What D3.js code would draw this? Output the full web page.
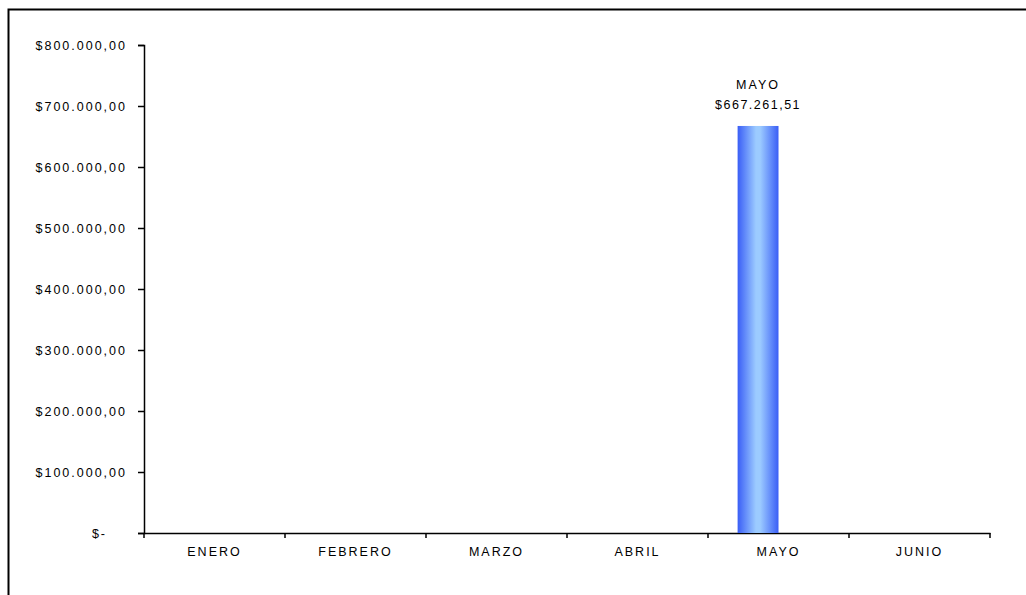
<!DOCTYPE html>
<html>
<head>
<meta charset="utf-8">
<script src="https://cdn.jsdelivr.net/npm/d3@7/dist/d3.min.js"></script>
<style>
  body { margin: 0; background: #fff; }
  text { font-family: "Liberation Sans", Arial, sans-serif; fill: #000; }
</style>
</head>
<body>
<div id="chart"></div>
<script>
// datos
var meses = ["ENERO", "FEBRERO", "MARZO", "ABRIL", "MAYO", "JUNIO"];
var series = ["Ventas", "Serie2"];
var ventas = [0, 0, 0, 0, 667261.51, 0];
var serie2 = [0, 0, 0, 0, 0, 0];
var yTicks = [0, 100000, 200000, 300000, 400000, 500000, 600000, 700000, 800000];

var width = 1026, height = 595;
var svg = d3.select("#chart").append("svg")
	.attr("width", width)
	.attr("height", height);

// marco del grafico
svg.append("rect")
	.attr("x", 8.5).attr("y", 9.5)
	.attr("width", 1040).attr("height", 600)
	.attr("fill", "none")
	.attr("stroke", "#000")
	.attr("stroke-width", 2);

var plotLeft = 144, plotRight = 990, plotTop = 45, plotBottom = 533;

var x0 = d3.scaleBand().domain(meses).range([plotLeft, plotRight])
	.paddingInner(0.42).paddingOuter(0.21);
var x1 = d3.scaleBand().domain(series).range([0, x0.bandwidth()]);
var y = d3.scaleLinear().domain([0, 800000]).range([plotBottom, plotTop]);

var grad = svg.append("defs").append("linearGradient")
	.attr("id", "barGrad").attr("x1", "0%").attr("x2", "100%").attr("y1", "0%").attr("y2", "0%");
grad.append("stop").attr("offset", "0%").attr("stop-color", "#3a5ef6");
grad.append("stop").attr("offset", "45%").attr("stop-color", "#9ccbff");
grad.append("stop").attr("offset", "55%").attr("stop-color", "#9ccbff");
grad.append("stop").attr("offset", "100%").attr("stop-color", "#3a5ef6");

function fmt(v){
	if(v == 0) return "$-";
	var s = d3.format(",.2f")(v);
	s = s.replace(/,/g, "#").replace(".", ",").replace(/#/g, ".");
	return "$" + s;
}

// eje Y
var yAxis = svg.append("g")
	.attr("transform", "translate(" + plotLeft + ",0)")
	.call(d3.axisLeft(y).tickValues(yTicks).tickSize(6).tickPadding(11).tickFormat(fmt));
yAxis.select(".domain").attr("stroke", "#000").attr("stroke-width", 1.5);
yAxis.selectAll("line").attr("stroke", "#000").attr("stroke-width", 1.5);
yAxis.selectAll("text")
	.style("font-size", "12.5px")
	.style("letter-spacing", "2px")
	.attr("dx", function(d){ return d == 0 ? -20 : 0; });

// eje X
var xAxis = svg.append("g")
	.attr("transform", "translate(0," + plotBottom + ")")
	.call(d3.axisBottom(x0).tickSize(0).tickPadding(14));
xAxis.select(".domain").attr("stroke", "#000").attr("stroke-width", 1.5);
xAxis.selectAll("text")
	.style("font-size", "12.5px")
	.style("letter-spacing", "2px");

// marcas entre categorias
var step = x0.step();
svg.append("g").selectAll("line.sep")
	.data(d3.range(meses.length + 1))
	.enter().append("line")
	.attr("class", "sep")
	.attr("x1", function(i){ return plotLeft + i * step; })
	.attr("x2", function(i){ return plotLeft + i * step; })
	.attr("y1", plotBottom).attr("y2", plotBottom + 5)
	.attr("stroke", "#000").attr("stroke-width", 1.5);

// barras
var datos = meses.map(function(m, i){
	return {mes: m, vals: [{s: series[0], v: ventas[i]}, {s: series[1], v: serie2[i]}]};
});
var grupos = svg.append("g").selectAll("g.mes")
	.data(datos).enter().append("g")
	.attr("transform", function(d){ return "translate(" + x0(d.mes) + ",0)"; });
grupos.selectAll("rect")
	.data(function(d){ return d.vals.filter(function(e){ return e.v > 0; }); })
	.enter().append("rect")
	.attr("x", function(e){ return x1(e.s); })
	.attr("width", x1.bandwidth())
	.attr("y", function(e){ return y(e.v); })
	.attr("height", function(e){ return plotBottom - y(e.v); })
	.attr("fill", "url(#barGrad)");

// etiquetas de datos
datos.forEach(function(d){
	d.vals.forEach(function(e){
		if(e.v <= 0) return;
		var cx = x0(d.mes) + x1(e.s) + x1.bandwidth() / 2;
		svg.append("text")
			.attr("x", cx).attr("y", y(e.v) - 37)
			.attr("text-anchor", "middle")
			.style("font-size", "12.5px").style("letter-spacing", "2px")
			.text(d.mes);
		svg.append("text")
			.attr("x", cx).attr("y", y(e.v) - 17)
			.attr("text-anchor", "middle")
			.style("font-size", "12.5px").style("letter-spacing", "1.5px")
			.text(fmt(e.v));
	});
});
</script>
</body>
</html>
